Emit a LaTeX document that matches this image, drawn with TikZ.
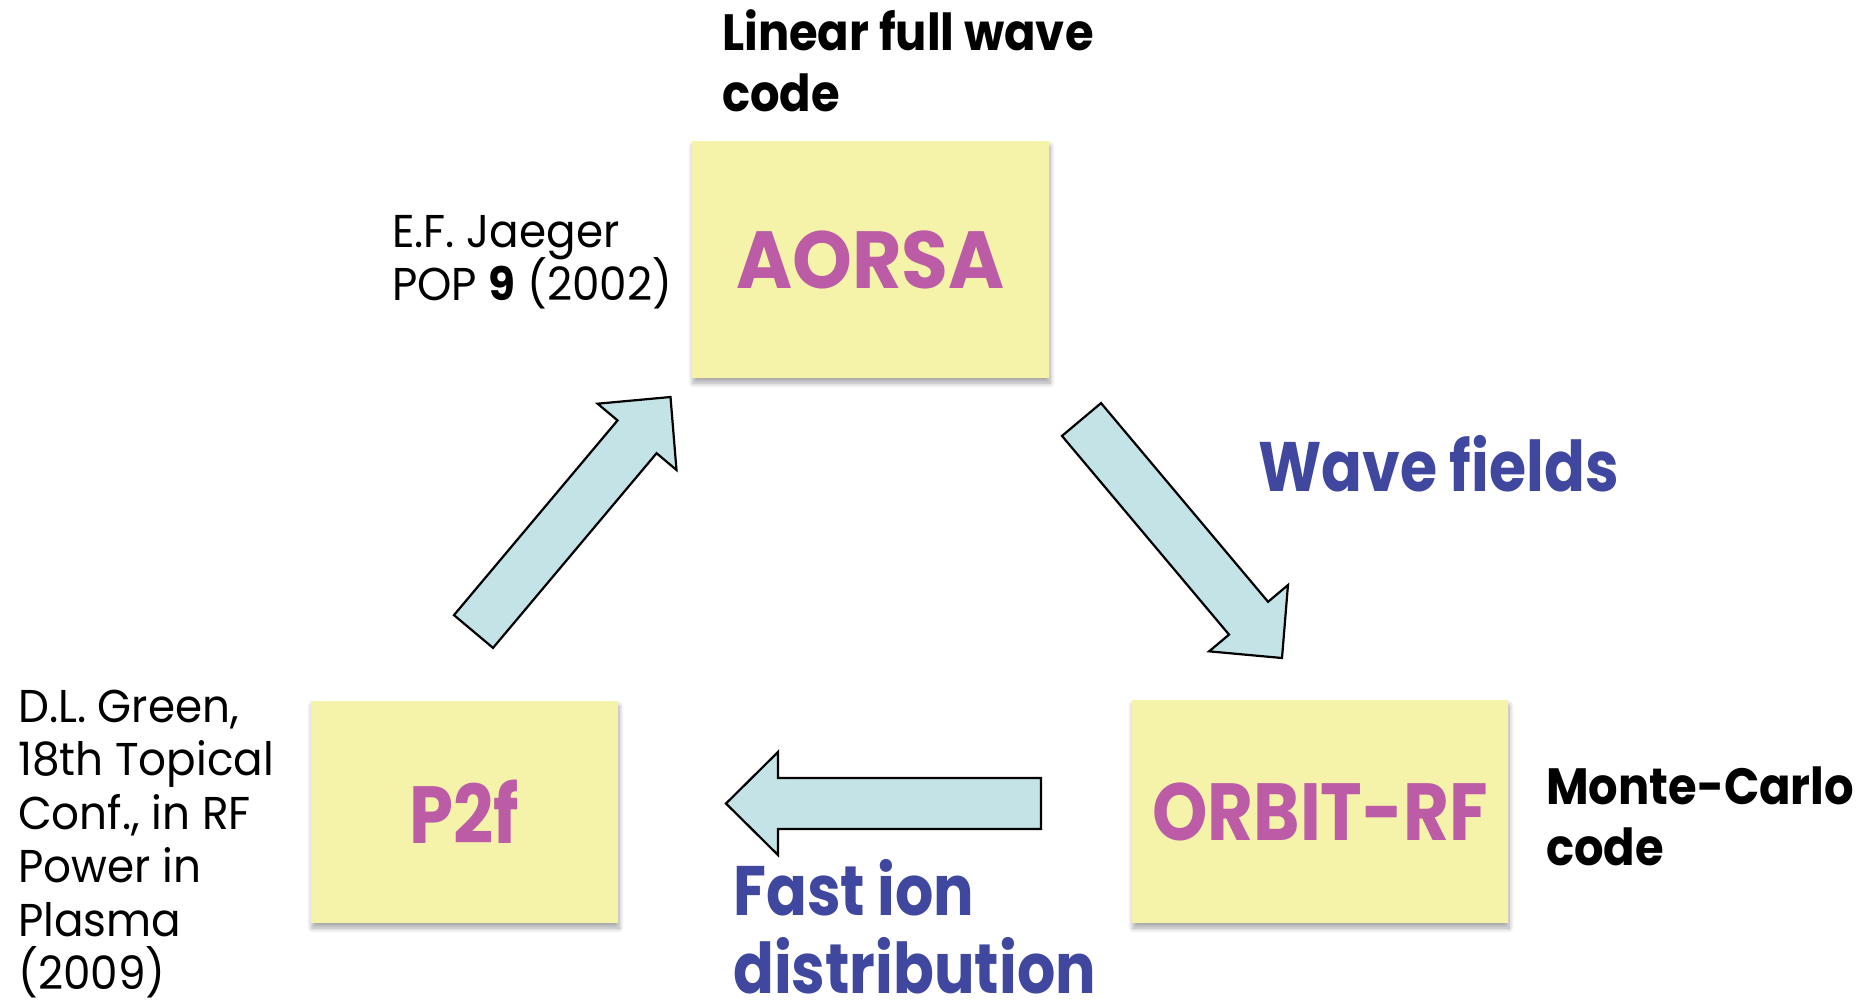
\documentclass[tikz,border=0pt]{standalone}
\usepackage{fontspec}
\setmainfont{Poppins}
\newfontfamily\reffont[FakeStretch=0.95]{Poppins}
\newfontfamily\tagfont[FakeStretch=0.91]{Poppins}
\newfontfamily\flowfont[FakeStretch=0.86]{Poppins}
\newfontfamily\boxfont[FakeStretch=0.87]{Poppins}
\newfontfamily\wideboxfont[FakeStretch=0.94]{Poppins}
\usetikzlibrary{calc,shadows.blur}

\definecolor{stickyyellow}{HTML}{F5F3A9}
\definecolor{flowcyan}{HTML}{C3E3E6}
\definecolor{codepink}{HTML}{BC5BA6}
\definecolor{labelblue}{HTML}{3F479F}

\tikzset{
  codebox/.style={fill=stickyyellow, inner sep=0pt, text=codepink,
    font=\boxfont\fontsize{81}{90}\selectfont\bfseries,
    blur shadow={shadow xshift=1pt, shadow yshift=-5pt, shadow blur radius=5pt,
                 shadow blur steps=8, shadow opacity=35}},
  flowshape/.style={fill=flowcyan, draw=black, line width=2.2pt, line join=miter},
  reftext/.style={anchor=base west, inner sep=0pt, font=\reffont\fontsize{46}{52}\selectfont},
  codetag/.style={anchor=base west, inner sep=0pt, font=\tagfont\fontsize{51}{60}\selectfont\bfseries},
  flowlabel/.style={anchor=base west, inner sep=0pt, text=labelblue,
    font=\flowfont\fontsize{70}{80}\selectfont\bfseries},
}

% Block arrow from a tail centre (#2) to a tip (#3): shaft 51, head 103 wide, 52 long
\newcommand\flowarrow[3]{%
  \coordinate (#1-neck) at ($(#3)!52pt!(#2)$);
  \draw[flowshape]
    ($(#2)!25.5pt!90:(#3)$) -- ($(#1-neck)!25.5pt!90:(#3)$)
    -- ($(#1-neck)!51.5pt!90:(#3)$) -- (#3)
    -- ($(#1-neck)!51.5pt!-90:(#3)$) -- ($(#1-neck)!25.5pt!-90:(#3)$)
    -- ($(#2)!25.5pt!-90:(#3)$) -- cycle;
}

\begin{document}
\begin{tikzpicture}[x=1pt, y=-1pt]
  \useasboundingbox (0,0) rectangle (1874,1005);

  % Code boxes
  \node[codebox, font=\wideboxfont\fontsize{81}{90}\selectfont\bfseries,
        minimum width=357pt, minimum height=237pt] (aorsa) at (870.5,259.5) {AORSA};
  \node[codebox, minimum width=376pt, minimum height=223pt] (orbit) at (1320,811.5) {ORBIT-RF};
  \node[codebox, minimum width=307pt, minimum height=222pt] (ptwof) at (464.5,812) {P2f};

  % Arrow ends between the boxes
  \coordinate (wave-tail) at (1081.5,419.5);
  \coordinate (wave-tip)  at (1282,658);
  \coordinate (dist-tail) at (1041,803.5);
  \coordinate (dist-tip)  at (726,803.5);
  \coordinate (back-tail) at (473.5,631.5);
  \coordinate (back-tip)  at (670.5,397);

  \flowarrow{wave}{wave-tail}{wave-tip}
  \flowarrow{dist}{dist-tail}{dist-tip}
  \flowarrow{back}{back-tail}{back-tip}

  % Descriptions of the codes
  \node[codetag] (aorsa-kind1) at (722,50)  {Linear full wave};
  \node[codetag] (aorsa-kind2) at (722,111) {code};
  \node[codetag] (orbit-kind1) at (1546,804) {Monte-Carlo};
  \node[codetag] (orbit-kind2) at (1546,865) {code};

  % References
  \node[reftext] (aorsa-ref1) at (392,247) {E.F. Jaeger};
  \node[reftext] (aorsa-ref2) at (392,300) {POP \textbf{9} (2002)};
  \node[reftext] (p2f-ref1) at (18,722) {D.L. Green,};
  \node[reftext] (p2f-ref2) at (18,775.5) {18th Topical};
  \node[reftext] (p2f-ref3) at (18,829) {Conf., in RF};
  \node[reftext] (p2f-ref4) at (18,882.5) {Power in};
  \node[reftext] (p2f-ref5) at (18,936) {Plasma};
  \node[reftext] (p2f-ref6) at (18,989.5) {(2009)};

  % Quantities passed along the loop
  \node[flowlabel] (wave-label) at (1258,491) {Wave fields};
  \node[flowlabel] (dist-label1) at (733,915) {Fast ion};
  \node[flowlabel] (dist-label2) at (733,993) {distribution};
\end{tikzpicture}
\end{document}
